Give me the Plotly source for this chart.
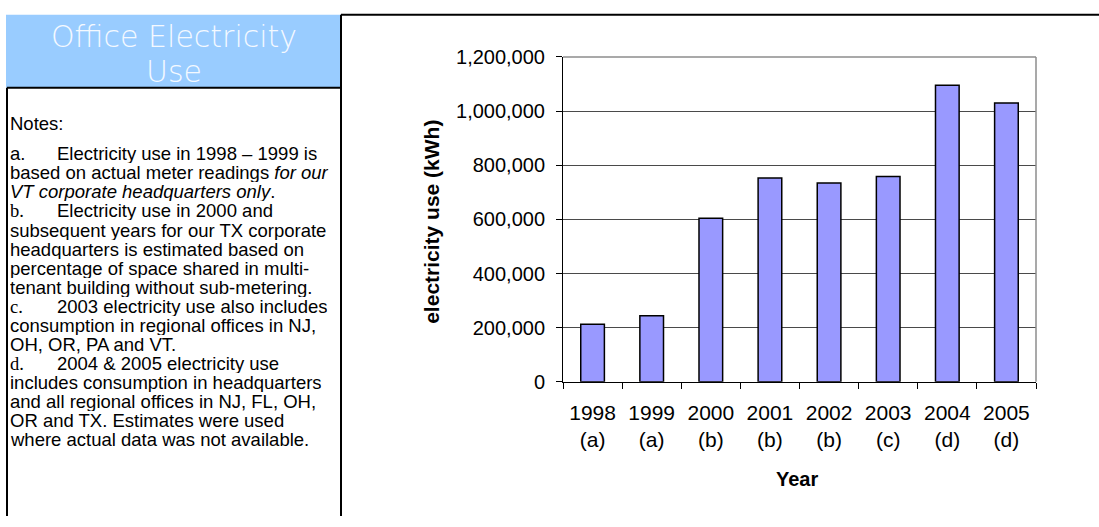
import plotly.graph_objects as go

W, H = 1099, 527

# ---- data ----
years = ["1998", "1999", "2000", "2001", "2002", "2003", "2004", "2005"]
notes_ref = ["(a)", "(a)", "(b)", "(b)", "(b)", "(c)", "(d)", "(d)"]
electricity_kwh = [213000, 244000, 604000, 753000, 735000, 759000, 1096000, 1030000]
y_ticks = [0, 200000, 400000, 600000, 800000, 1000000, 1200000]

categories = [f"{y}<br>{n}" for y, n in zip(years, notes_ref)]

title_lines = ["Office Electricity", "Use"]
note_lines = [
    ("a.", "Electricity use in 1998 – 1999 is"),
    ("", "based on actual meter readings <i>for our</i>"),
    ("", "<i>VT corporate headquarters only</i>."),
    ("b.", "Electricity use in 2000 and"),
    ("", "subsequent years for our TX corporate"),
    ("", "headquarters is estimated based on"),
    ("", "percentage of space shared in multi-"),
    ("", "tenant building without sub-metering."),
    ("c.", "2003 electricity use also includes"),
    ("", "consumption in regional offices in NJ,"),
    ("", "OH, OR, PA and VT."),
    ("d.", "2004 & 2005 electricity use"),
    ("", "includes consumption in headquarters"),
    ("", "and all regional offices in NJ, FL, OH,"),
    ("", "OR and TX. Estimates were used"),
    ("", "where actual data was not available."),
]


def px(x):
    return x / W


def py(y):
    return 1 - y / H


ARIAL = "Liberation Sans, Arial, sans-serif"

fig = go.Figure()
fig.add_trace(go.Bar(
    x=categories, y=electricity_kwh,
    marker=dict(color="#9999FF", line=dict(color="#000000", width=1.5)),
    width=0.4,
))

# plot area in pixels
PL, PR, PT, PB = 563, 1036, 48, 387

fig.update_layout(
    width=W, height=H,
    margin=dict(l=0, r=0, t=0, b=0),
    paper_bgcolor="white", plot_bgcolor="white",
    showlegend=False,
    font=dict(family=ARIAL, color="#000000"),
    xaxis=dict(
        domain=[px(PL), px(PR)],
        type="category",
        tickson="boundaries",
        ticks="outside", ticklen=6, tickcolor="#000000", tickwidth=1,
        showline=True, linecolor="#000000", linewidth=1,
        showgrid=False,
        tickfont=dict(size=21, family=ARIAL, color="#000000"),
        ticklabelstandoff=12,
    ),
    yaxis=dict(
        domain=[py(PB), py(PT)],
        range=[0, 1200000],
        tickvals=y_ticks,
        tickformat=",d",
        ticks="outside", ticklen=6, tickcolor="#000000", tickwidth=1,
        showline=True, linecolor="#000000", linewidth=1,
        showgrid=True, gridcolor="#4a4a4a", gridwidth=1,
        zeroline=False,
        tickfont=dict(size=20, family=ARIAL, color="#000000"),
        ticklabelstandoff=7,
    ),
)

shapes = []
# plot frame top/right (gray)
shapes.append(dict(type="line", xref="paper", yref="paper",
                   x0=px(PL), x1=px(PR), y0=py(PT), y1=py(PT),
                   line=dict(color="#8c8c8c", width=1.5)))
shapes.append(dict(type="line", xref="paper", yref="paper",
                   x0=px(PR), x1=px(PR), y0=py(PT), y1=py(PB),
                   line=dict(color="#8c8c8c", width=1.5)))
# header block
shapes.append(dict(type="rect", xref="paper", yref="paper",
                   x0=px(6), x1=px(341), y0=py(80), y1=py(4),
                   fillcolor="#99CCFF", line=dict(width=0), layer="below"))
# panel borders
border = dict(color="#000000", width=2)
shapes.append(dict(type="line", xref="paper", yref="paper",
                   x0=px(341), x1=1, y0=py(4), y1=py(4), line=border))
shapes.append(dict(type="line", xref="paper", yref="paper",
                   x0=px(341), x1=px(341), y0=py(4), y1=0, line=border))
shapes.append(dict(type="line", xref="paper", yref="paper",
                   x0=px(7), x1=px(7), y0=py(80), y1=0, line=border))
shapes.append(dict(type="line", xref="paper", yref="paper",
                   x0=px(7), x1=px(341), y0=py(80), y1=py(80), line=border))
fig.update_layout(shapes=shapes)

ann = []
# header title
for i, t in enumerate(title_lines):
    ann.append(dict(text=t, xref="paper", yref="paper",
                    x=px(173.5), y=py(27 + 36 * i), xanchor="center", yanchor="middle",
                    showarrow=False,
                    font=dict(family="DejaVu Sans, Verdana, sans-serif", size=30,
                              color="#F4F9FF", weight=200)))
# notes
LH = 19.9
ann.append(dict(text="Notes:", xref="paper", yref="paper",
                x=px(9), y=py(117), xanchor="left", yanchor="middle",
                showarrow=False, height=19, borderpad=0,
                font=dict(family=ARIAL, size=18.5, color="#000000")))
for i, (lab, txt) in enumerate(note_lines):
    yy = 149 + LH * i
    if lab:
        fam = ARIAL if lab == "a." else "Liberation Serif, Times New Roman, serif"
        ann.append(dict(text=lab, xref="paper", yref="paper",
                        x=px(9), y=py(yy), xanchor="left", yanchor="middle",
                        showarrow=False, height=19, borderpad=0,
                        font=dict(family=fam, size=18.5, color="#000000")))
        x0 = 56
    else:
        x0 = 9
    ann.append(dict(text=txt, xref="paper", yref="paper",
                    x=px(x0), y=py(yy), xanchor="left", yanchor="middle",
                    showarrow=False, height=19, borderpad=0,
                    font=dict(family=ARIAL, size=18.5, color="#000000")))
# axis titles
ann.append(dict(text="<b>Year</b>", xref="paper", yref="paper",
                x=px(797), y=py(488), xanchor="center", yanchor="middle",
                showarrow=False, font=dict(family=ARIAL, size=20, color="#000000")))
ann.append(dict(text="<b>electricity use (kWh)</b>", xref="paper", yref="paper",
                x=px(432), y=py(220), xanchor="center", yanchor="middle",
                textangle=-90, showarrow=False,
                font=dict(family=ARIAL, size=21, color="#000000")))
fig.update_layout(annotations=ann)

fig.write_html("out.html")
